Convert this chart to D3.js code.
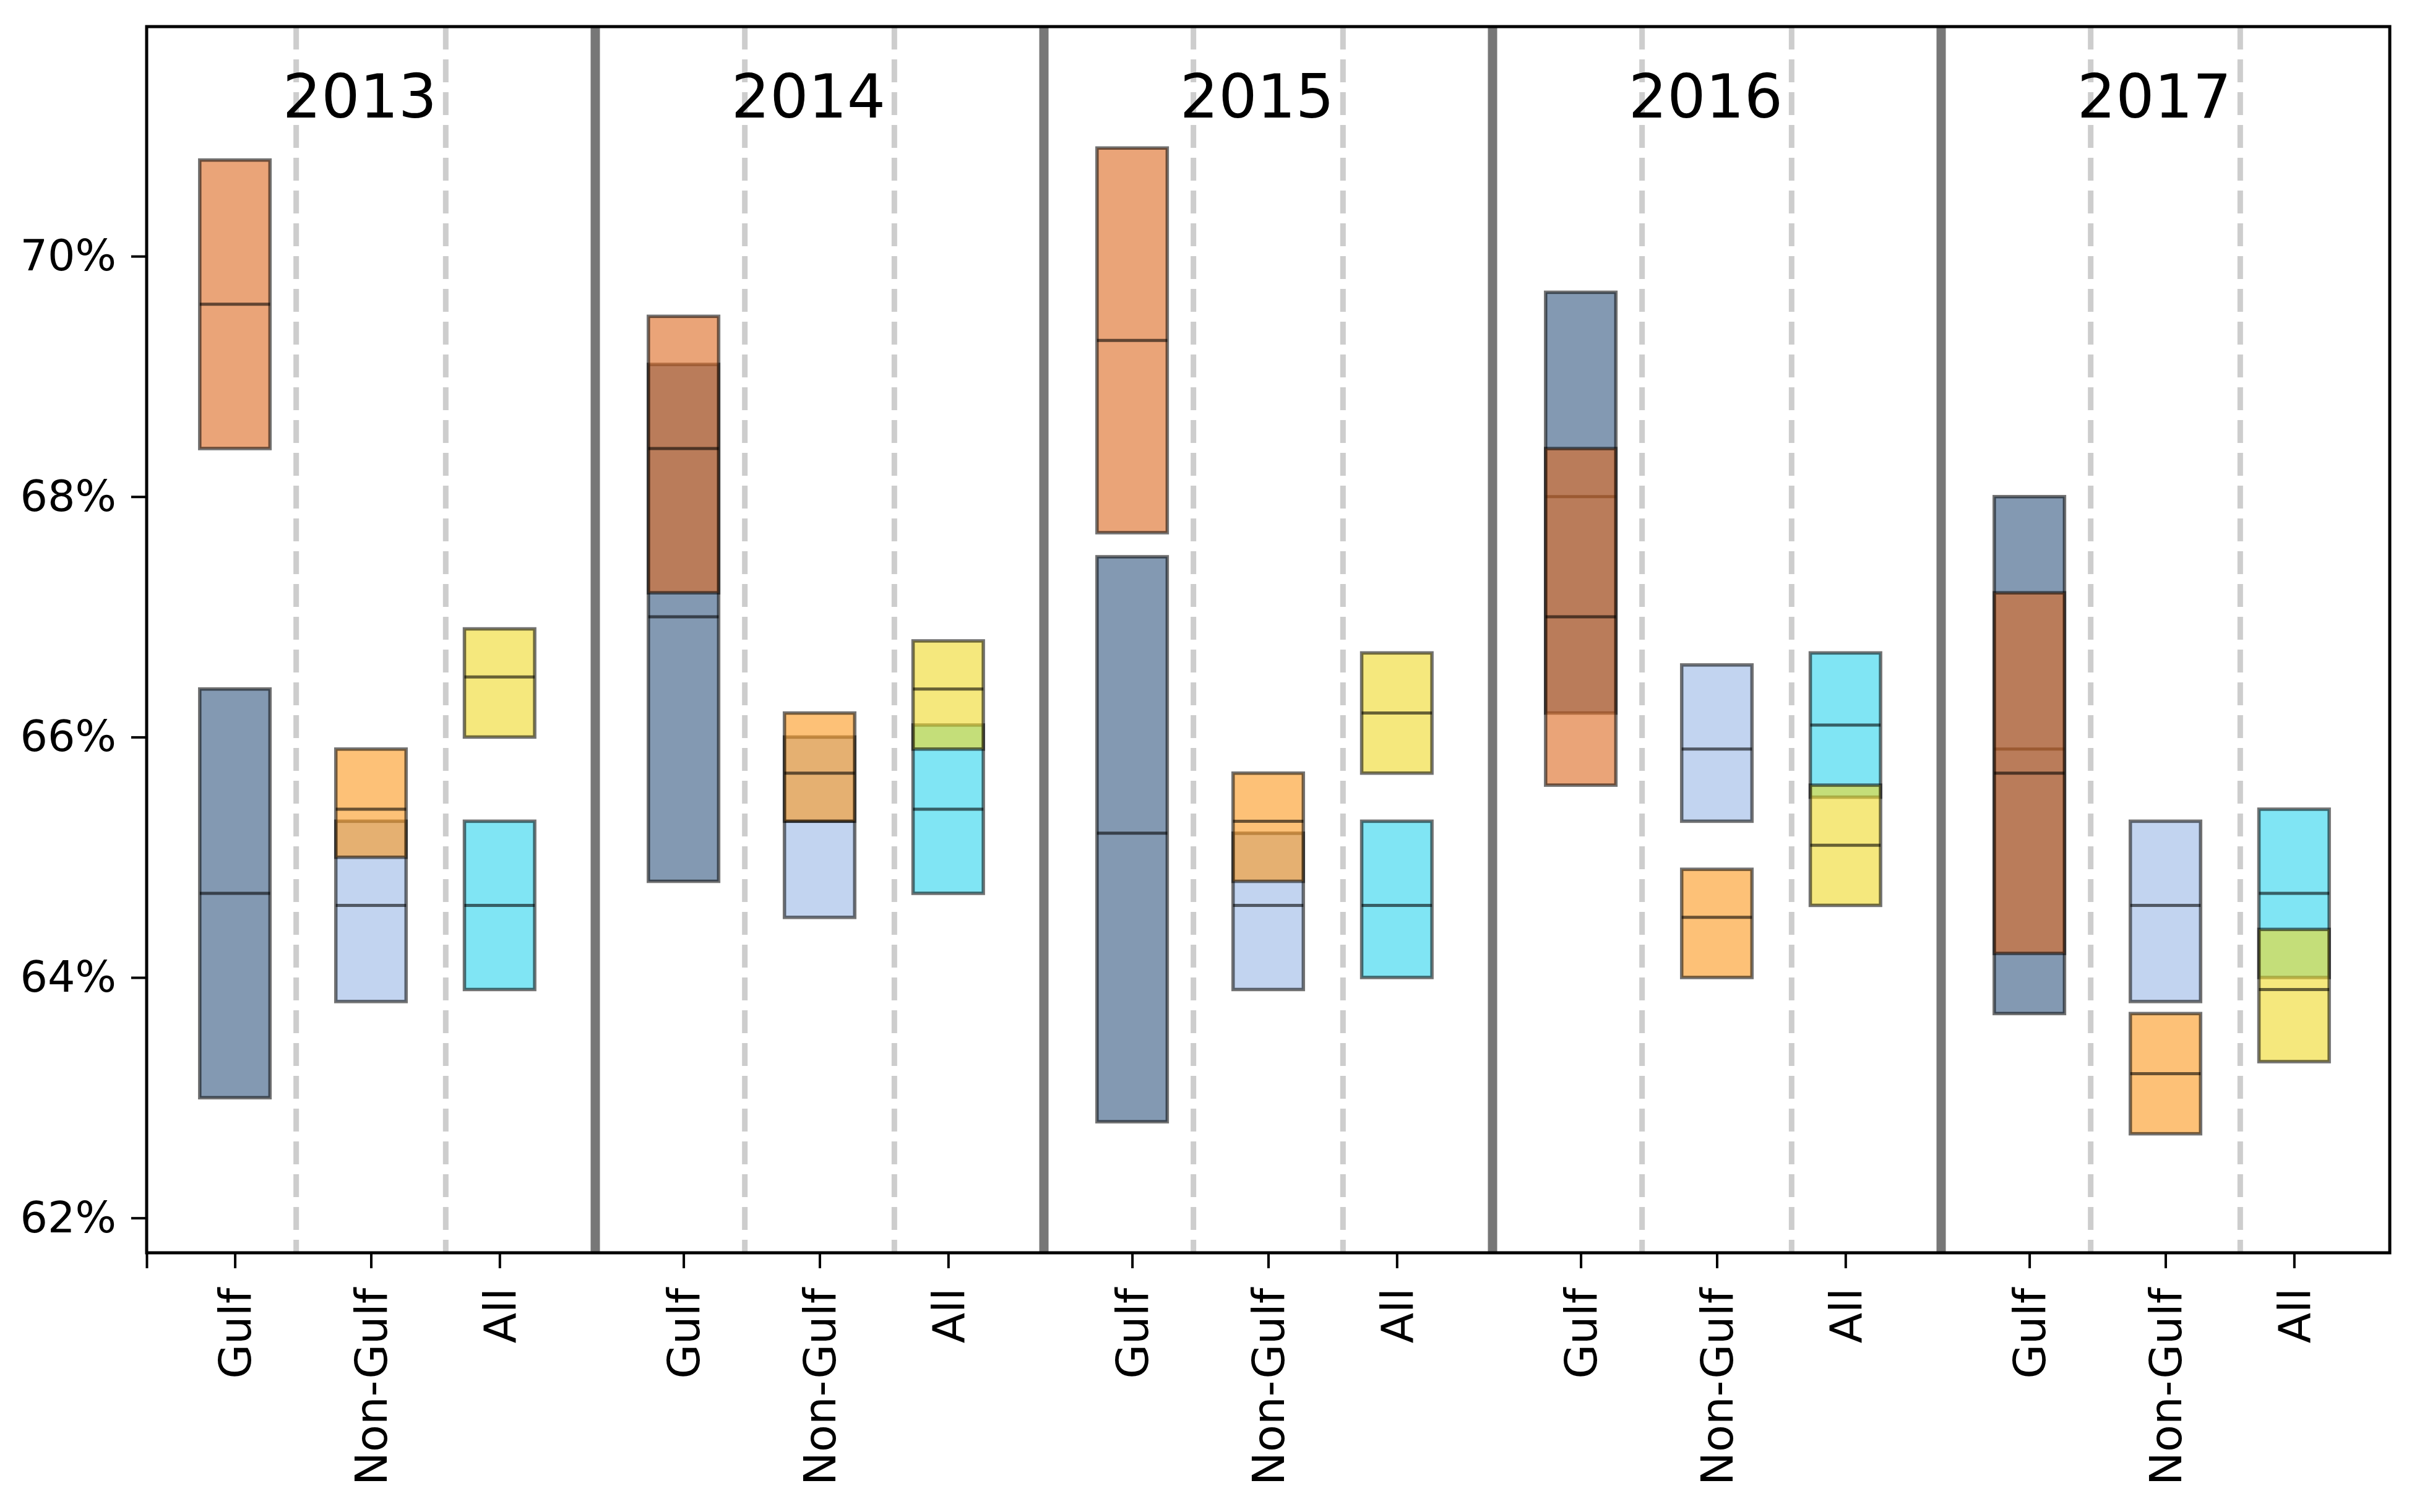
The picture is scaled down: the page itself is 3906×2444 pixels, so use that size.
<!DOCTYPE html>
<html>
<head>
<meta charset="utf-8">
<script src="https://cdn.jsdelivr.net/npm/d3@7"></script>
<style>
  body { margin: 0; background: #fff; }
  text { font-family: "DejaVu Sans", sans-serif; fill: #000; }
</style>
</head>
<body>
<script>
var years = ["2013", "2014", "2015", "2016", "2017"];
var groups = ["Gulf", "Non-Gulf", "All"];

// first series (blue family): [year][group]
var aLow  = [[63.0, 63.8, 63.9], [64.8, 64.5, 64.7], [62.8, 63.9, 64.0], [66.2, 65.3, 65.5], [63.7, 63.8, 64.0]];
var aMid  = [[64.7, 64.6, 64.6], [67.0, 65.3, 65.4], [65.2, 64.6, 64.6], [68.0, 65.9, 66.1], [65.9, 64.6, 64.7]];
var aHigh = [[66.4, 65.3, 65.3], [69.1, 66.0, 66.1], [67.5, 65.2, 65.3], [69.7, 66.6, 66.7], [68.0, 65.3, 65.4]];

// second series (orange family)
var bLow  = [[68.4, 65.0, 66.0], [67.2, 65.3, 65.9], [67.7, 64.8, 65.7], [65.6, 64.0, 64.6], [64.2, 62.7, 63.3]];
var bMid  = [[69.6, 65.4, 66.5], [68.4, 65.7, 66.4], [69.3, 65.3, 66.2], [67.0, 64.5, 65.1], [65.7, 63.2, 63.9]];
var bHigh = [[70.8, 65.9, 66.9], [69.5, 66.2, 66.8], [70.9, 65.7, 66.7], [68.4, 64.9, 65.6], [67.2, 63.7, 64.4]];

var yTicks = [62, 64, 66, 68, 70];

var colorsA = ["#345981", "#9cb8e6", "#2fd5ed"];
var colorsB = ["#dc6a22", "#fc9921", "#eeda2a"];

var width = 3906;
var height = 2444;
var plotLeft = 237, plotRight = 3862, plotTop = 43, plotBottom = 2025;

// position of each group inside a year panel (panel is 3 units wide)
var groupOffset = [0.59, 1.5, 2.36];
var boxW = 0.47;

var svg = d3.select("body")
  .append("svg")
  .attr("width", width)
  .attr("height", height);

svg.append("rect").attr("width", width).attr("height", height).attr("fill", "#fff");

var x = d3.scaleLinear()
  .domain([0, years.length * 3])
  .range([plotLeft, plotRight]);

var y = d3.scaleLinear()
  .domain([61.71, 71.91])
  .range([plotBottom, plotTop]);

// dashed lines between groups
var dashPos = [];
years.forEach(function (yr, i) { dashPos.push(i * 3 + 1, i * 3 + 2); });
svg.selectAll("line.dash")
  .data(dashPos)
  .enter()
  .append("line")
  .attr("class", "dash")
  .attr("x1", function (d) { return x(d); })
  .attr("x2", function (d) { return x(d); })
  .attr("y1", plotTop)
  .attr("y2", plotBottom)
  .style("stroke", "#cdcdcd")
  .style("stroke-width", 9)
  .style("stroke-dasharray", "37,16");

// thick separators between years
var sepPos = d3.range(1, years.length).map(function (i) { return i * 3; });
svg.selectAll("line.sep")
  .data(sepPos)
  .enter()
  .append("line")
  .attr("class", "sep")
  .attr("x1", function (d) { return x(d); })
  .attr("x2", function (d) { return x(d); })
  .attr("y1", plotTop)
  .attr("y2", plotBottom)
  .style("stroke", "#777")
  .style("stroke-width", 15);

function buildBoxes(low, mid, high, colors) {
  var out = [];
  years.forEach(function (yr, i) {
    groups.forEach(function (g, j) {
      out.push({ pos: i * 3 + groupOffset[j], lo: low[i][j], mid: mid[i][j], hi: high[i][j], color: colors[j] });
    });
  });
  return out;
}

function drawBoxes(boxes, cls) {
  var gb = svg.append("g").attr("class", cls);
  var sel = gb.selectAll("g")
    .data(boxes)
    .enter()
    .append("g");
  sel.append("rect")
    .attr("x", function (d) { return x(d.pos - boxW / 2); })
    .attr("width", function (d) { return x(boxW) - x(0); })
    .attr("y", function (d) { return y(d.hi); })
    .attr("height", function (d) { return y(d.lo) - y(d.hi); })
    .style("fill", function (d) { return d.color; })
    .style("fill-opacity", 0.61)
    .style("stroke", "#000")
    .style("stroke-opacity", 0.55)
    .style("stroke-width", 5.5);
  sel.append("line")
    .attr("x1", function (d) { return x(d.pos - boxW / 2); })
    .attr("x2", function (d) { return x(d.pos + boxW / 2); })
    .attr("y1", function (d) { return y(d.mid); })
    .attr("y2", function (d) { return y(d.mid); })
    .style("stroke", "#000")
    .style("stroke-opacity", 0.58)
    .style("stroke-width", 5);
}

drawBoxes(buildBoxes(aLow, aMid, aHigh, colorsA), "seriesA");
drawBoxes(buildBoxes(bLow, bMid, bHigh, colorsB), "seriesB");

// year labels
svg.selectAll("text.year")
  .data(years)
  .enter()
  .append("text")
  .attr("class", "year")
  .attr("x", function (d, i) { return x(i * 3 + 1.5) - 18; })
  .attr("y", 190)
  .attr("text-anchor", "middle")
  .style("font-size", "98px")
  .text(function (d) { return d; });

// y axis
var yAxis = svg.append("g")
  .attr("transform", "translate(" + plotLeft + ",0)")
  .call(d3.axisLeft(y).tickValues(yTicks).tickSize(25).tickPadding(24)
    .tickFormat(function (d) { return d + "%"; }));
yAxis.select(".domain").remove();
yAxis.selectAll(".tick line").style("stroke", "#000").style("stroke-width", 4);
yAxis.selectAll(".tick text")
  .style("font-size", "70px")
  .style("font-family", "DejaVu Sans");

// x axis
var xTickPos = [0];
var xTickLab = [""];
years.forEach(function (yr, i) {
  groups.forEach(function (g, j) {
    xTickPos.push(i * 3 + groupOffset[j]);
    xTickLab.push(g);
  });
});
var xAxis = svg.append("g")
  .attr("transform", "translate(0," + plotBottom + ")")
  .call(d3.axisBottom(x).tickValues(xTickPos).tickSize(25)
    .tickFormat(function (d, i) { return xTickLab[i]; }));
xAxis.select(".domain").remove();
xAxis.selectAll(".tick line").style("stroke", "#000").style("stroke-width", 4);
xAxis.selectAll(".tick text")
  .attr("transform", "rotate(-90)")
  .attr("x", -57)
  .attr("y", 0)
  .attr("dy", "0.35em")
  .attr("text-anchor", "end")
  .style("font-size", "72px")
  .style("font-family", "DejaVu Sans");

// frame
svg.append("rect")
  .attr("x", plotLeft)
  .attr("y", plotTop)
  .attr("width", plotRight - plotLeft)
  .attr("height", plotBottom - plotTop)
  .style("fill", "none")
  .style("stroke", "#000")
  .style("stroke-width", 5);
</script>
</body>
</html>
